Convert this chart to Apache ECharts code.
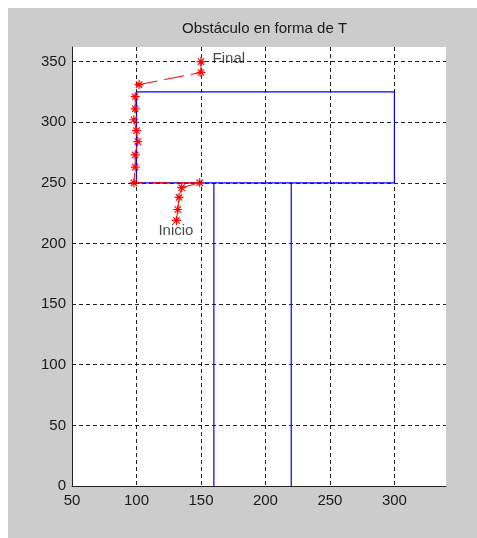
<!DOCTYPE html>
<html>
<head>
<meta charset="utf-8">
<script src="https://cdn.jsdelivr.net/npm/echarts@6/dist/echarts.min.js"></script>
<style>
  html, body { margin: 0; padding: 0; background: #ffffff; }
  #wrap { position: relative; width: 477px; height: 538px; background: #ffffff; }
  #chart { position: absolute; left: 8px; top: 8px; width: 469px; height: 530px; background: #cccccc; }
</style>
</head>
<body>
<div id="wrap"><div id="chart"></div></div>
<script>
// Axis limits and tick spacing
const xRange = [50, 340];
const yRange = [0, 362];
const tickStep = 50;

// T-shaped obstacle outline (top bar and stem)
const barX = [100, 100, 300, 300, 100];
const barY = [250, 325, 325, 250, 250];
const stemLeftX = [160, 160];
const stemRightX = [220, 220];
const stemY = [0, 250];

// Robot path from "Inicio" to "Final"
const pathX = [131, 132, 133, 135, 149, 98, 99, 99, 101, 100, 98, 99, 99, 102, 150, 150];
const pathY = [219, 228, 238, 246, 250, 250, 263, 273, 284, 293, 302, 311, 321, 331, 341, 350];

// Text annotations
const noteText = ['Final', 'Inicio'];
const noteX = [159, 117];
const noteY = [352, 210];

const zip = (xs, ys) => xs.map((x, i) => [x, ys[i]]);

// Asterisk marker: "+" and "x" strokes drawn as an outline-only path
const starPath = 'path://M0,-10L0,10M-10,0L10,0M-7,-7L7,7M-7,7L7,-7';

const font = '"Liberation Sans", Arial, sans-serif';
const chart = echarts.init(document.getElementById('chart'), null, { renderer: 'canvas' });

chart.setOption({
  animation: false,
  backgroundColor: '#cccccc',
  title: {
    text: 'Obstáculo en forma de T',
    left: 174,
    top: 13,
    padding: 0,
    textStyle: { fontFamily: font, fontSize: 15, fontWeight: 'normal', color: '#1a1a1a' }
  },
  grid: {
    left: 64, top: 39, width: 374, height: 439,
    show: true, backgroundColor: '#ffffff', borderWidth: 0
  },
  xAxis: {
    type: 'value', min: xRange[0], max: xRange[1], interval: tickStep,
    axisLine: { show: true, onZero: false, lineStyle: { color: '#222', width: 1 } },
    axisTick: { show: false },
    axisLabel: { fontFamily: font, fontSize: 15, color: '#1a1a1a', margin: 7, showMaxLabel: false },
    splitLine: { show: true, showMinLine: false, showMaxLine: false,
      lineStyle: { color: '#222', type: [4, 3], width: 1 } }
  },
  yAxis: {
    type: 'value', min: yRange[0], max: yRange[1], interval: tickStep,
    axisLine: { show: true, onZero: false, lineStyle: { color: '#222', width: 1 } },
    axisTick: { show: false },
    axisLabel: { fontFamily: font, fontSize: 15, color: '#1a1a1a', margin: 6, showMaxLabel: false },
    splitLine: { show: true, showMinLine: false, showMaxLine: false,
      lineStyle: { color: '#222', type: [4, 3], width: 1 } }
  },
  series: [
    {
      type: 'line', data: zip(barX, barY), symbol: 'none',
      lineStyle: { color: '#0000ff', width: 1.2 }, silent: true
    },
    {
      type: 'line', data: zip(stemLeftX, stemY), symbol: 'none',
      lineStyle: { color: '#0000ff', width: 1.2 }, silent: true
    },
    {
      type: 'line', data: zip(stemRightX, stemY), symbol: 'none',
      lineStyle: { color: '#0000ff', width: 1.2 }, silent: true
    },
    {
      type: 'line', data: zip(pathX, pathY),
      symbol: starPath, symbolSize: 9, showAllSymbol: true,
      itemStyle: { color: 'rgba(0,0,0,0)', borderColor: '#ff0000', borderWidth: 1.2 },
      lineStyle: { color: '#ff0000', width: 1, type: [20, 7] },
      silent: true
    },
    {
      type: 'scatter', symbolSize: 0,
      data: noteText.map((t, i) => ({ value: [noteX[i], noteY[i]], name: t })),
      label: {
        show: true, position: 'right', distance: 0,
        formatter: p => p.name,
        fontFamily: font, fontSize: 15, color: '#1a1a1a'
      },
      silent: true
    }
  ]
});
</script>
</body>
</html>
